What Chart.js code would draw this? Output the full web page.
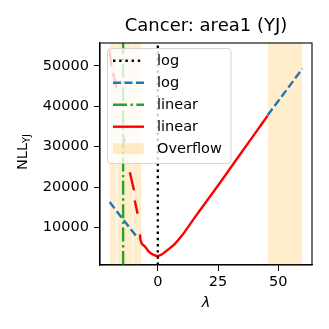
<!DOCTYPE html>
<html>
<head>
<meta charset="utf-8">
<script src="https://cdn.jsdelivr.net/npm/chart.js@4"></script>
<style>
  html, body { margin: 0; padding: 0; background: #fff; }
  canvas { display: block; }
</style>
</head>
<body>
<canvas id="nllChart" width="329" height="329"></canvas>
<script>
// values
const titleText = 'Cancer: area1 (YJ)';
const xTicks = [0, 25, 50];
const yTicks = [10000, 20000, 30000, 40000, 50000];
const xRange = [-24, 64];
const yRange = [726, 55660];

// optimal lambdas (vertical lines)
const logLambda = 0;
const linearLambda = -14.4;

// "log" curve (blue dashed), null = not shown
const logX = [-20, -14, -8.2, -7, 45.6, 50, 55, 60];
const logY = [16300, 11700, 7290, null, 37800, 41300, 45300, 49300];

// "linear" curve (red), nulls where it overflowed
const linX = [-20, -19.3, -19, -18.6, -17.2, -16, -14.4, -13.7, -12.5, -11.6, -9.9, -9.7, -9.6, -8.4, -8, -7.4, -7.2, -5.5, -3.5, -1.5, 0, 1.5, 3, 5, 7, 10, 15, 20, 25, 30, 35, 40, 45.6];
const linY = [54000, 49900, null, 48300, 44600, null, 32700, 31100, null, 23700, 19200, null, 16700, 13400, null, 8300, 7000, 5400, 3900, 3150, 2950, 3300, 3950, 4900, 5900, 8000, 12200, 16300, 20400, 24600, 28800, 33000, 37700];

// overflow regions
const overflowSpans = [[-20, -17.2], [-17.2, -10.4], [-10.4, -6.8], [45.6, 60]];

const legendItems = [
    { label: 'log', color: '#000000', dash: [2.4, 3.8], kind: 'line' },
    { label: 'log', color: '#1f77b4', dash: [8, 3.5], kind: 'line' },
    { label: 'linear', color: '#2ca02c', dash: [14, 3.5, 2.4, 3.5], kind: 'line' },
    { label: 'linear', color: '#ff0000', dash: [], kind: 'line' },
    { label: 'Overflow', color: 'rgba(255,165,0,0.2)', kind: 'patch' }
];

const font = 'DejaVu Sans';
const lw = 2.4;

function pts(xs, ys) {
    return xs.map((x, i) => ({ x: x, y: ys[i] }));
}

const decorPlugin = {
    id: 'decor',
    beforeDatasetsDraw(chart) {
        const { ctx, chartArea, scales } = chart;
        ctx.save();
        ctx.fillStyle = 'rgba(255,165,0,0.2)';
        overflowSpans.forEach(s => {
            const a = scales.x.getPixelForValue(s[0]);
            const b = scales.x.getPixelForValue(s[1]);
            ctx.fillRect(a + 0.4, chartArea.top, b - a - 0.8, chartArea.bottom - chartArea.top);
        });
        ctx.restore();
    },
    afterDatasetsDraw(chart) {
        const { ctx, chartArea } = chart;
        ctx.save();
        // legend
        const lx = 107.5, ly = 48.5, lwid = 123.5, lh = 115;
        ctx.beginPath();
        ctx.roundRect(lx, ly, lwid, lh, 3);
        ctx.fillStyle = 'rgba(255,255,255,0.8)';
        ctx.fill();
        ctx.strokeStyle = 'rgba(204,204,204,0.8)';
        ctx.lineWidth = 1;
        ctx.stroke();
        ctx.font = '14.5px "' + font + '"';
        ctx.textBaseline = 'middle';
        legendItems.forEach((it, i) => {
            const y = 60.7 + i * 22;
            if (it.kind === 'line') {
                ctx.beginPath();
                ctx.setLineDash(it.dash);
                ctx.strokeStyle = it.color;
                ctx.lineWidth = lw;
                ctx.moveTo(113, y);
                ctx.lineTo(144, y);
                ctx.stroke();
                ctx.setLineDash([]);
            } else {
                ctx.fillStyle = it.color;
                ctx.fillRect(113, y - 5.5, 31, 11);
            }
            ctx.fillStyle = '#000';
            ctx.fillText(it.label, 157, y + 1);
        });
        // frame
        ctx.strokeStyle = '#000';
        ctx.lineWidth = 1.1;
        ctx.strokeRect(chartArea.left, chartArea.top, chartArea.right - chartArea.left, chartArea.bottom - chartArea.top);
        ctx.restore();
    },
    afterDraw(chart) {
        const { ctx, chartArea } = chart;
        const cx = (chartArea.left + chartArea.right) / 2;
        ctx.save();
        ctx.fillStyle = '#000';
        ctx.textAlign = 'center';
        ctx.textBaseline = 'alphabetic';
        ctx.font = '18px "' + font + '"';
        ctx.fillText(titleText, cx, 30.7);
        ctx.font = 'italic 14.5px "' + font + '"';
        ctx.fillText('λ', cx, 307);
        // y label NLL_YJ
        ctx.translate(27.3, 152);
        ctx.rotate(-Math.PI / 2);
        ctx.textAlign = 'left';
        ctx.font = '14.5px "' + font + '"';
        const w1 = ctx.measureText('NLL').width;
        ctx.font = '10px "' + font + '"';
        const w2 = ctx.measureText('YJ').width;
        const start = -(w1 + w2) / 2;
        ctx.font = '14.5px "' + font + '"';
        ctx.fillText('NLL', start, 0);
        ctx.font = '10px "' + font + '"';
        ctx.fillText('YJ', start + w1, 3);
        ctx.restore();
    }
};

const ctx = document.getElementById('nllChart');
const nllChart = new Chart(ctx, {
    type: 'scatter',
    data: {
        datasets: [
            {
                label: 'log',
                data: pts([logLambda, logLambda], yRange),
                showLine: true,
                borderColor: '#000000',
                borderWidth: lw,
                borderDash: [2.4, 3.8],
                pointRadius: 0,
                order: 1
            },
            {
                label: 'log',
                data: pts(logX, logY),
                showLine: true,
                spanGaps: false,
                borderColor: '#1f77b4',
                borderWidth: lw,
                borderDash: [8, 3.5],
                pointRadius: 0,
                order: 4
            },
            {
                label: 'linear',
                data: pts([linearLambda, linearLambda], yRange),
                showLine: true,
                borderColor: '#2ca02c',
                borderWidth: lw,
                borderDash: [14, 3.5, 2.4, 3.5],
                pointRadius: 0,
                order: 2
            },
            {
                label: 'linear',
                data: pts(linX, linY),
                showLine: true,
                spanGaps: false,
                cubicInterpolationMode: 'monotone',
                borderColor: '#ff0000',
                borderWidth: lw,
                pointRadius: 0,
                order: 3
            }
        ]
    },
    options: {
        responsive: false,
        animation: false,
        layout: { padding: { left: 0, top: 43, right: 17, bottom: 0 } },
        plugins: {
            legend: { display: false },
            tooltip: { enabled: false },
            title: { display: false }
        },
        scales: {
            x: {
                type: 'linear',
                min: xRange[0],
                max: xRange[1],
                afterBuildTicks: s => { s.ticks = xTicks.map(v => ({ value: v })); },
                afterFit: s => { s.height = 64; },
                grid: { drawOnChartArea: false, drawTicks: true, tickLength: 6, color: '#000', tickColor: '#000' },
                border: { display: true, color: '#000', width: 1.1 },
                ticks: { color: '#000', padding: 3, maxRotation: 0, font: { family: font, size: 14.5 } }
            },
            y: {
                type: 'linear',
                min: yRange[0],
                max: yRange[1],
                afterBuildTicks: s => { s.ticks = yTicks.map(v => ({ value: v })); },
                afterFit: s => { s.width = 100; },
                grid: { drawOnChartArea: false, drawTicks: true, tickLength: 6, color: '#000', tickColor: '#000' },
                border: { display: true, color: '#000', width: 1.1 },
                ticks: { color: '#000', padding: 5, font: { family: font, size: 14.5 }, callback: v => String(v) }
            }
        }
    },
    plugins: [decorPlugin]
});
</script>
</body>
</html>
